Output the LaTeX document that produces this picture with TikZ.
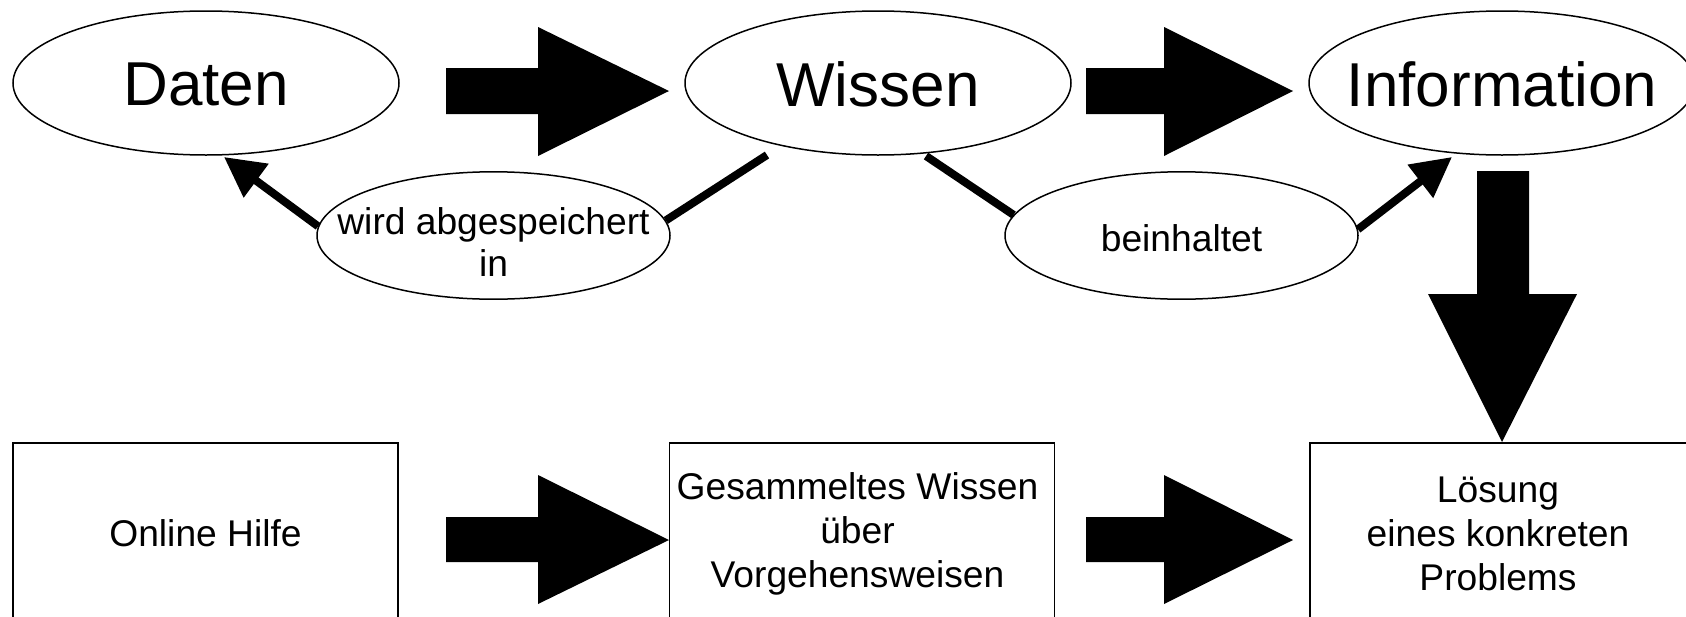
\documentclass[tikz,border=0pt]{standalone}
\usepackage{fontspec}
\setmainfont{Liberation Sans}
\usetikzlibrary{shapes.geometric,arrows.meta}

\tikzset{
  concept/.style={ellipse, draw, line width=0.75pt, minimum width=193pt,
    minimum height=72pt, inner sep=0pt},
  conceptlabel/.style={inner sep=0pt, font=\fontsize{31}{36}\selectfont},
  relation/.style={ellipse, draw, line width=0.75pt, minimum width=176.5pt,
    minimum height=63.7pt, inner sep=0pt},
  relationlabel/.style={inner sep=0pt, align=center,
    font=\fontsize{18.6}{21}\selectfont},
  stage/.style={rectangle, draw, line width=0.75pt, minimum width=192.5pt,
    minimum height=89pt, inner sep=0pt},
  stagelabel/.style={inner sep=0pt, align=center,
    font=\fontsize{18.6}{22}\selectfont},
  link/.style={line width=4pt},
  linkarrow/.style={link, -{Triangle[length=20pt,width=20pt]}},
  blockarrow/.style={fill=black}
}

\begin{document}
\begin{tikzpicture}[x=0.5pt,y=-0.5pt]
\useasboundingbox (0,0) rectangle (1686,616);

% top row: concepts
\node[concept] (daten) at (206,83) {};
\node[concept] (wissen) at (878,83) {};
\node[concept] (info) at (1502,83) {};
\node[conceptlabel] (datenText) at (206,84) {Daten};
\node[conceptlabel] (wissenText) at (878,84) {Wissen};
\node[conceptlabel] (infoText) at (1502,84) {Information};

% relations between the concepts
\node[relation] (rel1) at (493.5,235.5) {};
\node[relation] (rel2) at (1181.5,235.5) {};
\node[relationlabel] (rel1Text) at (493.5,242) {wird abgespeichert\\in};
\node[relationlabel] (rel2Text) at (1181.5,238) {beinhaltet};

% bottom row: stages
\node[stage] (hilfe) at (205.5,532) {};
\node[stage] (gesammelt) at (862,532) {};
\node[stage] (loesung) at (1502.5,532) {};
\node[stagelabel] (hilfeText) at (205.5,533) {Online Hilfe};
\node[stagelabel] (gesammeltText) at (857.5,534) {Gesammeltes Wissen\\über\\Vorgehensweisen};
\node[stagelabel] (loesungText) at (1498,534) {Lösung\\eines konkreten\\Problems};

% free ends of the relation links
\coordinate (datenIn) at (224,157);
\coordinate (wissenL) at (767,155);
\coordinate (wissenR) at (926,156);
\coordinate (infoIn) at (1452,157);

\draw[linkarrow] (rel1.177) -- (datenIn);
\draw[link] (rel1.5) -- (wissenL);
\draw[link] (rel2.173) -- (wissenR);
\draw[linkarrow] (rel2.2) -- (infoIn);

% block arrows, top row
\fill[blockarrow] (446,68) -- (538,68) -- (538,27) -- (669,91) -- (538,156)
  -- (538,114) -- (446,114) -- cycle;
\fill[blockarrow] (1086,68) -- (1164,68) -- (1164,27) -- (1293,91) -- (1164,156)
  -- (1164,114) -- (1086,114) -- cycle;

% block arrows, bottom row
\fill[blockarrow] (446,517) -- (538,517) -- (538,475) -- (669,540) -- (538,604)
  -- (538,562) -- (446,562) -- cycle;
\fill[blockarrow] (1086,517) -- (1164,517) -- (1164,475) -- (1293,540) -- (1164,604)
  -- (1164,562) -- (1086,562) -- cycle;

% block arrow from Information down to the solution
\fill[blockarrow] (1477,171) -- (1529,171) -- (1529,294) -- (1577,294) -- (1502,442)
  -- (1428,294) -- (1477,294) -- cycle;
\end{tikzpicture}
\end{document}
